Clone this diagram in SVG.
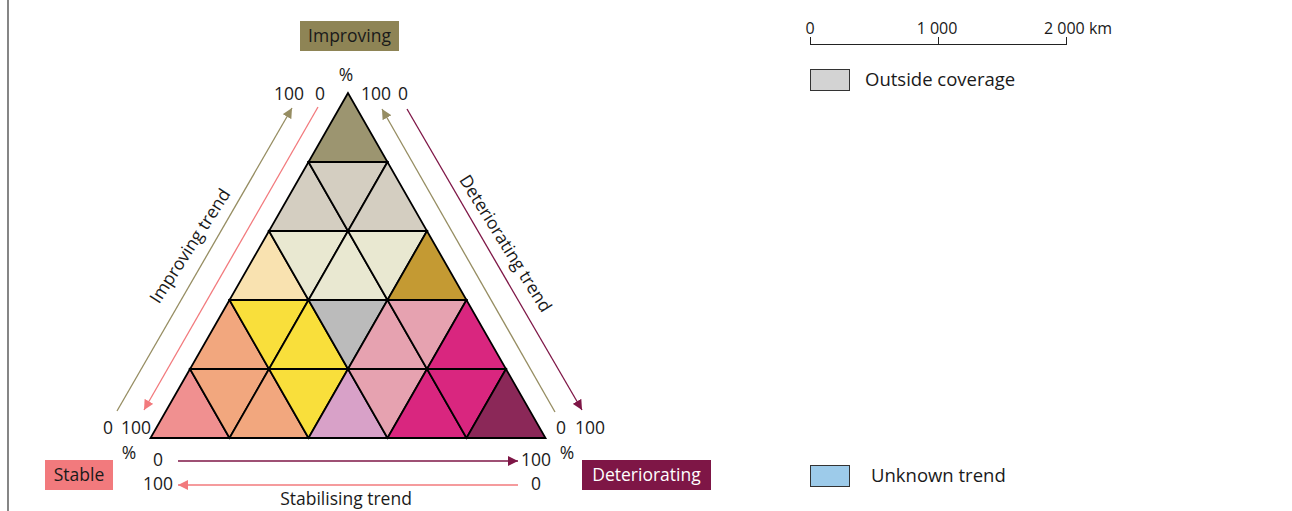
<svg xmlns="http://www.w3.org/2000/svg" width="1292" height="511" viewBox="0 0 1292 511">
<defs>
<style>
text{font-family:"Open Sans","Noto Sans","DejaVu Sans",sans-serif;font-size:17.5px;fill:#1a1a1a}
.sm{font-size:16px}
.lg{font-size:18.5px}
.tri polygon{stroke:#000;stroke-width:1.8;stroke-linejoin:miter}
.ol{stroke:#968d62;stroke-width:1.3;fill:none}
.pk{stroke:#f27a7d;stroke-width:1.3;fill:none}
.mr{stroke:#7e1646;stroke-width:1.3;fill:none}
.leg{stroke:#222;stroke-width:1}
</style>
<marker id="aOl" viewBox="0 0 10 10" refX="10" refY="5" markerWidth="10" markerHeight="10" markerUnits="userSpaceOnUse" orient="auto"><path d="M0,0 L10,5 L0,10 z" fill="#968d62"/></marker>
<marker id="aPk" viewBox="0 0 10 10" refX="10" refY="5" markerWidth="10" markerHeight="10" markerUnits="userSpaceOnUse" orient="auto"><path d="M0,0 L10,5 L0,10 z" fill="#f27a7d"/></marker>
<marker id="aMr" viewBox="0 0 10 10" refX="10" refY="5" markerWidth="10" markerHeight="10" markerUnits="userSpaceOnUse" orient="auto"><path d="M0,0 L10,5 L0,10 z" fill="#7e1646"/></marker>
</defs>
<rect width="1292" height="511" fill="#fff"/>
<line x1="8" y1="0" x2="8" y2="511" stroke="#444" stroke-width="1.3"/>

<g id="triangle" class="tri">
<polygon points="348,93 308.5,162 387.5,162" fill="#9c9570"/>
<polygon points="308.5,162 269,231 348,231" fill="#d4cec1"/>
<polygon points="308.5,162 387.5,162 348,231" fill="#d4cec1"/>
<polygon points="387.5,162 348,231 427,231" fill="#d4cec1"/>
<polygon points="269,231 229.5,300 308.5,300" fill="#f9e2b0"/>
<polygon points="269,231 348,231 308.5,300" fill="#e9e8d1"/>
<polygon points="348,231 308.5,300 387.5,300" fill="#e9e8d1"/>
<polygon points="348,231 427,231 387.5,300" fill="#e9e8d1"/>
<polygon points="427,231 387.5,300 466.5,300" fill="#c49a33"/>
<polygon points="229.5,300 190,369 269,369" fill="#f2a77e"/>
<polygon points="229.5,300 308.5,300 269,369" fill="#f9df3b"/>
<polygon points="308.5,300 269,369 348,369" fill="#f9df3b"/>
<polygon points="308.5,300 387.5,300 348,369" fill="#bbbbbb"/>
<polygon points="387.5,300 348,369 427,369" fill="#e6a2b0"/>
<polygon points="387.5,300 466.5,300 427,369" fill="#e6a2b0"/>
<polygon points="466.5,300 427,369 506,369" fill="#d9267f"/>
<polygon points="190,369 150.5,438 229.5,438" fill="#f09090"/>
<polygon points="190,369 269,369 229.5,438" fill="#f2a77e"/>
<polygon points="269,369 229.5,438 308.5,438" fill="#f2a77e"/>
<polygon points="269,369 348,369 308.5,438" fill="#f9df3b"/>
<polygon points="348,369 308.5,438 387.5,438" fill="#d8a1c8"/>
<polygon points="348,369 427,369 387.5,438" fill="#e6a2b0"/>
<polygon points="427,369 387.5,438 466.5,438" fill="#d9267f"/>
<polygon points="427,369 506,369 466.5,438" fill="#d9267f"/>
<polygon points="506,369 466.5,438 545.5,438" fill="#8b2858"/>
</g>

<g id="connectors">
<line class="ol" x1="117" y1="411" x2="292" y2="108" marker-end="url(#aOl)"/>
<line class="pk" x1="318" y1="107" x2="144" y2="410" marker-end="url(#aPk)"/>
<line class="ol" x1="555" y1="412" x2="382" y2="109" marker-end="url(#aOl)"/>
<line class="mr" x1="407" y1="109" x2="582" y2="410" marker-end="url(#aMr)"/>
<line class="mr" x1="178" y1="461" x2="518" y2="461" marker-end="url(#aMr)"/>
<line class="pk" x1="518" y1="485" x2="178" y2="485" marker-end="url(#aPk)"/>
</g>

<g id="node-improving">
<rect x="300" y="21" width="99" height="30" fill="#8e8455"/>
<text x="349.5" y="42" text-anchor="middle">Improving</text>
</g>
<g id="node-stable">
<rect x="45" y="460" width="68" height="30" fill="#f27a7d"/>
<text x="79" y="481" text-anchor="middle">Stable</text>
</g>
<g id="node-deteriorating">
<rect x="582" y="460" width="129" height="30" fill="#7e1646"/>
<text x="646.5" y="481" text-anchor="middle" style="fill:#fff">Deteriorating</text>
</g>

<g id="axis-labels">
<text x="346" y="81" text-anchor="middle">%</text>
<text x="289" y="100" text-anchor="middle">100</text>
<text x="320" y="100" text-anchor="middle">0</text>
<text x="376" y="100" text-anchor="middle">100</text>
<text x="403" y="100" text-anchor="middle">0</text>
<text x="108" y="434" text-anchor="middle">0</text>
<text x="136" y="434" text-anchor="middle">100</text>
<text x="129" y="459" text-anchor="middle">%</text>
<text x="561" y="434" text-anchor="middle">0</text>
<text x="590" y="434" text-anchor="middle">100</text>
<text x="567" y="459" text-anchor="middle">%</text>
<text x="158" y="466" text-anchor="middle">0</text>
<text x="158" y="490" text-anchor="middle">100</text>
<text x="536" y="466" text-anchor="middle">100</text>
<text x="536" y="490" text-anchor="middle">0</text>
<text x="346" y="505" text-anchor="middle">Stabilising trend</text>
<text transform="translate(190,246) rotate(-57)" text-anchor="middle" dy="6">Improving trend</text>
<text transform="translate(505.5,243.5) rotate(58)" text-anchor="middle" dy="6">Deteriorating trend</text>
</g>

<g id="legend">
<line class="leg" x1="810" y1="44.5" x2="1067" y2="44.5"/>
<line class="leg" x1="810.5" y1="37" x2="810.5" y2="45"/>
<line class="leg" x1="938.5" y1="37" x2="938.5" y2="45"/>
<line class="leg" x1="1066.5" y1="37" x2="1066.5" y2="45"/>
<text class="sm" x="810" y="34" text-anchor="middle">0</text>
<text class="sm" x="937" y="34" text-anchor="middle">1 000</text>
<text class="sm" x="1044" y="34">2 000 km</text>
<rect x="810.5" y="69.5" width="39" height="21" fill="#d3d3d3" stroke="#333"/>
<text class="lg" x="865" y="86">Outside coverage</text>
<rect x="810.5" y="465.5" width="39" height="21" fill="#9dcbea" stroke="#333"/>
<text class="lg" x="871" y="482">Unknown trend</text>
</g>
</svg>
